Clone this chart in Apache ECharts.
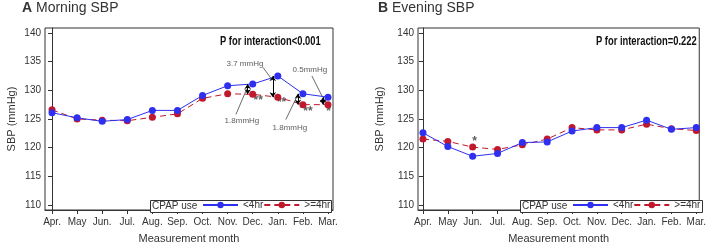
<!DOCTYPE html>
<html>
<head>
<meta charset="utf-8">
<script src="https://cdn.jsdelivr.net/npm/echarts@6/dist/echarts.min.js"></script>
<style>
  html, body { margin: 0; padding: 0; background: #fff; }
  #chart { width: 709px; height: 249px; }
</style>
</head>
<body>
<div id="chart"></div>
<script>
var months = ['Apr.', 'May', 'Jun.', 'Jul.', 'Aug.', 'Sep.', 'Oct.', 'Nov.', 'Dec.', 'Jan.', 'Feb.', 'Mar.']
var yTicks = [110, 115, 120, 125, 130, 135, 140]

// Morning SBP
var mornLow = [126.1, 125.2, 124.6, 124.9, 126.5, 126.5, 129.1, 130.8, 131.1, 132.5, 129.4, 128.8]
var mornHigh = [126.6, 125.0, 124.8, 124.7, 125.3, 125.9, 128.6, 129.4, 129.3, 128.8, 127.5, 127.5]
// Evening SBP
var eveLow = [122.6, 120.2, 118.5, 119.0, 120.9, 121.0, 122.9, 123.5, 123.5, 124.8, 123.2, 123.5]
var eveHigh = [121.5, 121.1, 120.1, 119.7, 120.5, 121.5, 123.5, 123.1, 123.1, 124.1, 123.3, 123.0]

// annotations on the morning panel
var arrowMonths = [8, 9, 10, 11]
var gapLabels = [
  { text: '1.8mmHg', at: [7.57, 124.7], from: [7.33, 125.8], to: [7.76, 130.2] },
  { text: '3.7 mmHg', at: [7.69, 134.7], from: [8.41, 134.0], to: [8.76, 131.9] },
  { text: '1.8mmHg', at: [9.48, 123.5], from: [9.32, 124.9], to: [9.75, 128.8] },
  { text: '0.5mmHg', at: [10.28, 133.5], from: [10.36, 132.5], to: [10.76, 129.0] }
]
var mornStars = [[8.22, 128.2, '**'], [9.15, 127.8, '**'], [10.2, 126.3, '**'], [11.02, 126.3, '*']]
var eveStars = [[2.08, 121.1, '*']]

var blue = '#2f2ff0'
var red = '#c0182c'
var ink = '#333333'
var font = 'Liberation Sans, Arial, sans-serif'

function pairs(arr) {
  return arr.map(function (v, i) { return [i, v] })
}

function xAxisCfg(idx, min, max) {
  return {
    type: 'value', gridIndex: idx, min: min, max: max,
    name: 'Measurement month', nameLocation: 'middle', nameGap: 23,
    nameTextStyle: { color: ink, fontSize: 11, fontFamily: font },
    axisLine: { show: true, lineStyle: { color: ink } },
    axisTick: { show: true, length: 4, customValues: months.map(function (m, i) { return i }), lineStyle: { color: ink } },
    axisLabel: {
      color: ink, fontSize: 10, fontFamily: font, margin: 7,
      customValues: months.map(function (m, i) { return i }),
      formatter: function (v) { return months[Math.round(v)] }
    },
    splitLine: { show: false }
  }
}

function yAxisCfg(idx, gap) {
  return {
    type: 'value', gridIndex: idx, min: 109.14, max: 140.86,
    name: 'SBP (mmHg)', nameLocation: 'middle', nameGap: gap,
    nameTextStyle: { color: ink, fontSize: 11, fontFamily: font },
    axisLine: { show: true, lineStyle: { color: ink } },
    axisTick: { show: true, length: 4, customValues: yTicks, lineStyle: { color: ink } },
    axisLabel: { color: ink, fontSize: 10, fontFamily: font, margin: 4, customValues: yTicks },
    splitLine: { show: false }
  }
}

function lineSeries(name, data, idx, color, dashed, extra) {
  var s = {
    name: name, type: 'line', xAxisIndex: idx, yAxisIndex: idx,
    data: pairs(data), symbol: 'circle', symbolSize: 7,
    itemStyle: { color: color },
    lineStyle: { color: color, width: 1, type: dashed ? [6, 4] : 'solid' },
    animation: false, z: dashed ? 3 : 4
  }
  return Object.assign(s, extra || {})
}

function starSeries(stars, idx) {
  return {
    type: 'scatter', xAxisIndex: idx, yAxisIndex: idx, data: stars,
    symbolSize: 1, itemStyle: { color: 'rgba(0,0,0,0)' }, silent: true, animation: false,
    label: {
      show: true, position: 'inside', color: ink, fontSize: 12, fontWeight: 'bold', fontFamily: font,
      formatter: function (p) { return p.value[2] }
    }
  }
}

function legendCfg(left) {
  return {
    left: left, top: 200, itemWidth: 35, itemHeight: 8, itemGap: 0, padding: 0, z: 20,
    data: ['<4hr', '>=4hr'], selectedMode: false,
    textStyle: { color: ink, fontSize: 10, fontFamily: font }
  }
}

function pText(x, text) {
  return {
    type: 'text', x: x, y: 36, scaleX: 0.78,
    style: { text: text, fill: '#111', fontSize: 12, fontWeight: 'bold', fontFamily: font }
  }
}

function panelTitle(left, letter, text) {
  return {
    text: '{b|' + letter + '} ' + text, left: left, top: 1, padding: 0,
    textStyle: { color: ink, fontSize: 14, fontWeight: 'normal', fontFamily: font, rich: { b: { fontWeight: 'bold', fontSize: 14, fontFamily: font, color: ink } } }
  }
}

var arrowLines = arrowMonths.map(function (i) {
  return [{ coord: [i - 0.2, mornLow[i]] }, { coord: [i - 0.2, mornHigh[i]] }]
})
var leaderLines = gapLabels.map(function (g) {
  return [{ coord: g.from }, { coord: g.to }]
})

var chart = echarts.init(document.getElementById('chart'))
chart.setOption({
  backgroundColor: '#fff',
  animation: false,
  title: [panelTitle(22, 'A', 'Morning SBP'), panelTitle(378, 'B', 'Evening SBP')],
  grid: [
    { left: 45, top: 28, width: 288, height: 185, show: true, borderColor: ink, borderWidth: 1, backgroundColor: 'transparent' },
    { left: 418, top: 28, width: 286, height: 185, show: true, borderColor: ink, borderWidth: 1, backgroundColor: 'transparent' }
  ],
  xAxis: [xAxisCfg(0, -0.28, 11.2), xAxisCfg(1, -0.2, 11.12)],
  yAxis: [yAxisCfg(0, 28), yAxisCfg(1, 33)],
  legend: [legendCfg(202), legendCfg(572)],
  graphic: [
    { type: 'rect', z: 1, left: 150, top: 200, shape: { width: 181, height: 12 }, style: { fill: '#fff', stroke: ink, lineWidth: 1 } },
    { type: 'rect', z: 1, left: 520, top: 200, shape: { width: 182, height: 12 }, style: { fill: '#fff', stroke: ink, lineWidth: 1 } },
    { type: 'text', z: 2, left: 152, top: 201, style: { text: 'CPAP use', fill: ink, fontSize: 10, fontFamily: font } },
    { type: 'text', z: 2, left: 522, top: 201, style: { text: 'CPAP use', fill: ink, fontSize: 10, fontFamily: font } },
    pText(220, 'P for interaction<0.001'),
    pText(596, 'P for interaction=0.222')
  ],
  series: [
    lineSeries('<4hr', mornLow, 0, blue, false, {
      markLine: {
        silent: true, animation: false, symbol: ['arrow', 'arrow'], symbolSize: 5,
        label: { show: false }, lineStyle: { color: '#000', width: 1, type: 'solid' },
        data: arrowLines
      }
    }),
    lineSeries('>=4hr', mornHigh, 0, red, true, {
      markLine: {
        silent: true, animation: false, symbol: ['none', 'none'],
        label: { show: false }, lineStyle: { color: '#444', width: 0.8, type: 'solid' },
        data: leaderLines
      }
    }),
    lineSeries('<4hr', eveLow, 1, blue, false),
    lineSeries('>=4hr', eveHigh, 1, red, true),
    starSeries(mornStars, 0),
    starSeries(eveStars, 1),
    {
      type: 'scatter', xAxisIndex: 0, yAxisIndex: 0, silent: true, animation: false,
      data: gapLabels.map(function (g) { return [g.at[0], g.at[1], g.text] }),
      symbolSize: 1, itemStyle: { color: 'rgba(0,0,0,0)' },
      label: { show: true, position: 'inside', color: ink, fontSize: 8, fontFamily: font, formatter: function (p) { return p.value[2] } }
    }
  ]
})
</script>
</body>
</html>
